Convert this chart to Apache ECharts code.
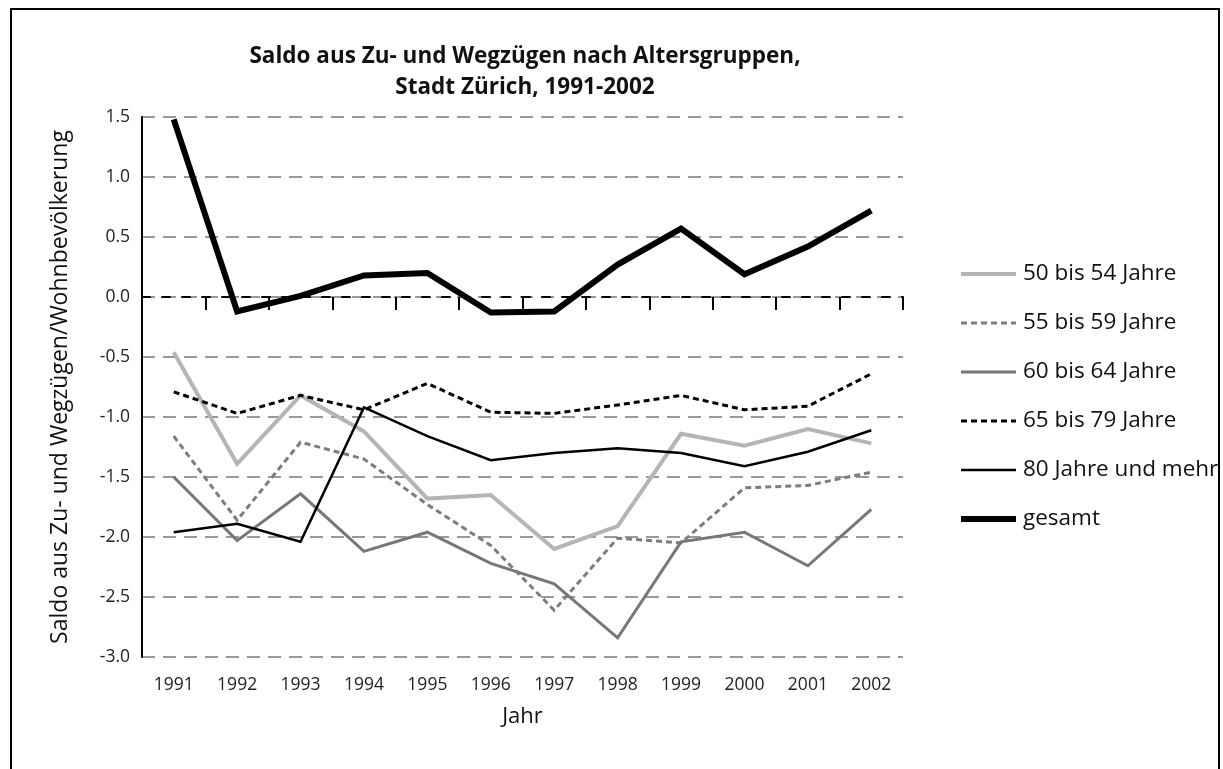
<!DOCTYPE html>
<html>
<head>
<meta charset="utf-8">
<script src="https://cdn.jsdelivr.net/npm/echarts@6/dist/echarts.min.js"></script>
<style>
html,body{margin:0;padding:0;background:#fff;}
#chart{width:1223px;height:769px;}
</style>
</head>
<body>
<div id="chart"></div>
<script>
const years = ['1991','1992','1993','1994','1995','1996','1997','1998','1999','2000','2001','2002'];
const yTicks = [-3.0,-2.5,-2.0,-1.5,-1.0,-0.5,0.0,0.5,1.0,1.5];
const s50_54 = [-0.46,-1.39,-0.82,-1.12,-1.68,-1.65,-2.10,-1.91,-1.14,-1.24,-1.10,-1.22];
const s55_59 = [-1.16,-1.86,-1.21,-1.35,-1.73,-2.07,-2.61,-2.01,-2.05,-1.59,-1.57,-1.46];
const s60_64 = [-1.50,-2.03,-1.64,-2.12,-1.96,-2.22,-2.39,-2.84,-2.04,-1.96,-2.24,-1.77];
const s65_79 = [-0.79,-0.97,-0.82,-0.94,-0.72,-0.96,-0.97,-0.90,-0.82,-0.94,-0.91,-0.64];
const s80 = [-1.96,-1.89,-2.04,-0.92,-1.16,-1.36,-1.30,-1.26,-1.30,-1.41,-1.29,-1.11];
const sTotal = [1.48,-0.12,0.01,0.18,0.20,-0.13,-0.12,0.27,0.57,0.19,0.42,0.72];
const names = ['50 bis 54 Jahre','55 bis 59 Jahre','60 bis 64 Jahre','65 bis 79 Jahre','80 Jahre und mehr','gesamt'];

const font = '"Open Sans", "Noto Sans", sans-serif';
const styles = [
  {color: '#b5b5b5', width: 4, type: 'solid', z: 2},
  {color: '#7d7d7d', width: 3, type: [6, 4], z: 3},
  {color: '#777777', width: 3, type: 'solid', z: 3},
  {color: '#000000', width: 3, type: [6, 4], z: 4},
  {color: '#000000', width: 2.5, type: 'solid', z: 4},
  {color: '#000000', width: 6, type: 'solid', z: 5}
];
const datasets = [s50_54, s55_59, s60_64, s65_79, s80, sTotal];

const chart = echarts.init(document.getElementById('chart'));

const series = names.map((n, i) => ({
  name: n, type: 'line', data: datasets[i], xAxisIndex: 0,
  symbol: 'none', showSymbol: false, z: styles[i].z,
  lineStyle: {color: styles[i].color, width: styles[i].width, type: styles[i].type, cap: 'butt', join: 'miter'},
  itemStyle: {color: styles[i].color},
  emphasis: {disabled: true}
}));

chart.setOption({
  animation: false,
  backgroundColor: '#fff',
  title: {
    text: 'Saldo aus Zu- und Wegzügen nach Altersgruppen,\nStadt Zürich, 1991-2002',
    left: 520, top: 36, textAlign: 'center',
    textStyle: {fontFamily: font, fontSize: 22.5, fontWeight: 'bold', color: '#111', lineHeight: 31}
  },
  legend: {
    orient: 'vertical', left: 953, top: 257,
    itemWidth: 55, itemHeight: 14, itemGap: 25,
    data: names.map((n, i) => ({
      name: n,
      itemStyle: {opacity: 0, borderWidth: 0},
      lineStyle: {color: styles[i].color, width: styles[i].width, type: styles[i].type, cap: 'butt', opacity: 1}
    })),
    textStyle: {fontFamily: font, fontSize: 22.5, color: '#111', lineHeight: 24, padding: [0,0,0,2]},
    selectedMode: false
  },
  graphic: [{
    type: 'rect', shape: {x: 11, y: 9, width: 1208, height: 800},
    style: {fill: 'none', stroke: '#000', lineWidth: 2}, silent: true, z: 100
  }],
  grid: {left: 142, right: 320, top: 117, bottom: 112, containLabel: false},
  xAxis: [{
    type: 'category', data: years, position: 'bottom', boundaryGap: true,
    axisLine: {show: false, onZero: false},
    axisTick: {show: false},
    axisLabel: {fontFamily: font, fontSize: 17.5, color: '#222', margin: 19},
    name: 'Jahr', nameLocation: 'middle', nameGap: 49,
    nameTextStyle: {fontFamily: font, fontSize: 22, color: '#111'}
  }, {
    type: 'category', data: years, position: 'top', boundaryGap: true,
    axisLine: {show: true, onZero: true, lineStyle: {color: '#000', width: 2, type: [8, 12]}},
    axisTick: {show: true, inside: true, length: 13, alignWithLabel: false, lineStyle: {color: '#000', width: 2}},
    axisLabel: {show: false}
  }],
  yAxis: {
    type: 'value', min: -3, max: 1.5, interval: 0.5,
    axisLine: {show: true, lineStyle: {color: '#000', width: 2}},
    axisTick: {show: false},
    axisLabel: {fontFamily: font, fontSize: 17.5, color: '#222', margin: 12,
      formatter: v => v.toFixed(1)},
    splitLine: {show: true, lineStyle: {color: '#999', width: 2, type: [13, 8]}},
    name: 'Saldo aus Zu- und Wegzügen/Wohnbevölkerung', nameLocation: 'middle', nameGap: 70,
    nameTextStyle: {fontFamily: font, fontSize: 23, color: '#111'}
  },
  series: series
});
</script>
</body>
</html>
